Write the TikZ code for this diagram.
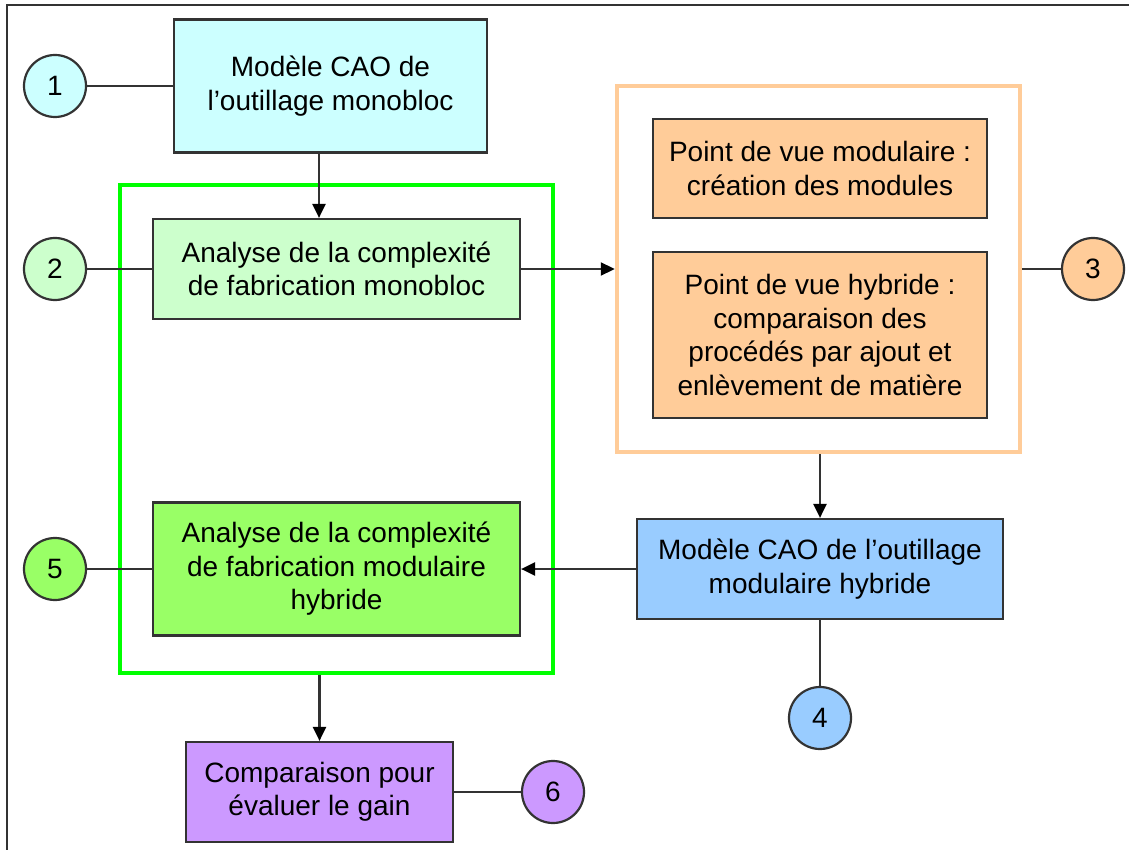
\documentclass[tikz,border=0pt]{standalone}
\usepackage{fontspec}
\setmainfont{Liberation Sans}
\usetikzlibrary{arrows.meta}
\definecolor{cyanf}{HTML}{CCFFFF}
\definecolor{lgreenf}{HTML}{CCFFCC}
\definecolor{orangef}{HTML}{FFCC99}
\definecolor{bluef}{HTML}{99CCFF}
\definecolor{greenf}{HTML}{99FF66}
\definecolor{purplef}{HTML}{CC99FF}
\definecolor{frameorange}{HTML}{FFCC99}
\definecolor{framegreen}{HTML}{00FF00}
\definecolor{edge}{HTML}{333333}
\tikzset{
  box/.style={draw=edge, line width=2.2pt, rectangle, inner sep=0pt, align=center,
    font=\fontsize{28}{33.5}\selectfont},
  num/.style={draw=edge, line width=2.2pt, circle, minimum size=62pt, inner sep=0pt,
    font=\fontsize{28}{30}\selectfont},
  conn/.style={draw=edge, line width=2.2pt},
  arr/.style={draw=edge, line width=2.2pt, -{Triangle[length=14pt,width=13pt,color=black]}},
}
\begin{document}
\begin{tikzpicture}[x=1pt,y=-1pt]
\fill[white] (0,0) rectangle (1129,850);
\useasboundingbox (0,0) rectangle (1129,850);
\draw[line width=2.8pt, edge] (1129,5) -- (7,5) -- (7,851);

% group frames
\node[draw=framegreen, line width=4.5pt, minimum width=433pt, minimum height=488pt, inner sep=0pt] (gframe) at (336.5,429) {};
\node[draw=frameorange, line width=4.5pt, minimum width=403pt, minimum height=366pt, inner sep=0pt] (oframe) at (818.5,269) {};

% boxes
\node[box, fill=cyanf, minimum width=313pt, minimum height=133pt] (b1) at (330.5,86) {Modèle CAO de\\l’outillage monobloc};
\node[box, fill=lgreenf, minimum width=367pt, minimum height=100pt] (b2) at (336.5,269) {Analyse de la complexité\\de fabrication monobloc};
\node[box, fill=orangef, minimum width=334pt, minimum height=99pt] (b3a) at (820,168.5) {Point de vue modulaire :\\création des modules};
\node[box, fill=orangef, minimum width=334pt, minimum height=166pt] (b3b) at (820,335) {Point de vue hybride :\\comparaison des\\procédés par ajout et\\enlèvement de matière};
\node[box, fill=bluef, minimum width=366pt, minimum height=100pt] (b4) at (820,569) {Modèle CAO de l’outillage\\modulaire hybride};
\node[box, fill=greenf, minimum width=367pt, minimum height=133pt] (b5) at (336.5,569) {Analyse de la complexité\\de fabrication modulaire\\hybride};
\node[box, fill=purplef, minimum width=267pt, minimum height=100pt] (b6) at (319.5,792) {Comparaison pour\\évaluer le gain};

% numbered circles
\node[num, fill=cyanf] (c1) at (55,86) {1};
\node[num, fill=lgreenf] (c2) at (55,269) {2};
\node[num, fill=orangef] (c3) at (1093,269) {3};
\node[num, fill=bluef] (c4) at (820,718) {4};
\node[num, fill=greenf] (c5) at (55,569) {5};
\node[num, fill=purplef] (c6) at (553,792) {6};

\coordinate (ax) at (319,0);

% connectors
\draw[conn] (c1.east) -- (b1.west);
\draw[conn] (c2.east) -- (b2.west);
\draw[conn] (oframe.east) -- (c3.west);
\draw[conn] (b4.south) -- (c4.north);
\draw[conn] (c5.east) -- (b5.west);
\draw[conn] (b6.east) -- (c6.west);

\draw[arr] (b1.south -| ax) -- (b2.north -| ax);
\draw[arr] (b2.east) -- (oframe.west);
\draw[arr] (oframe.south -| b4.north) -- (b4.north);
\draw[arr] (b4.west) -- (b5.east);
\draw[arr] (gframe.south -| b6.north) -- (b6.north);
\end{tikzpicture}
\end{document}
